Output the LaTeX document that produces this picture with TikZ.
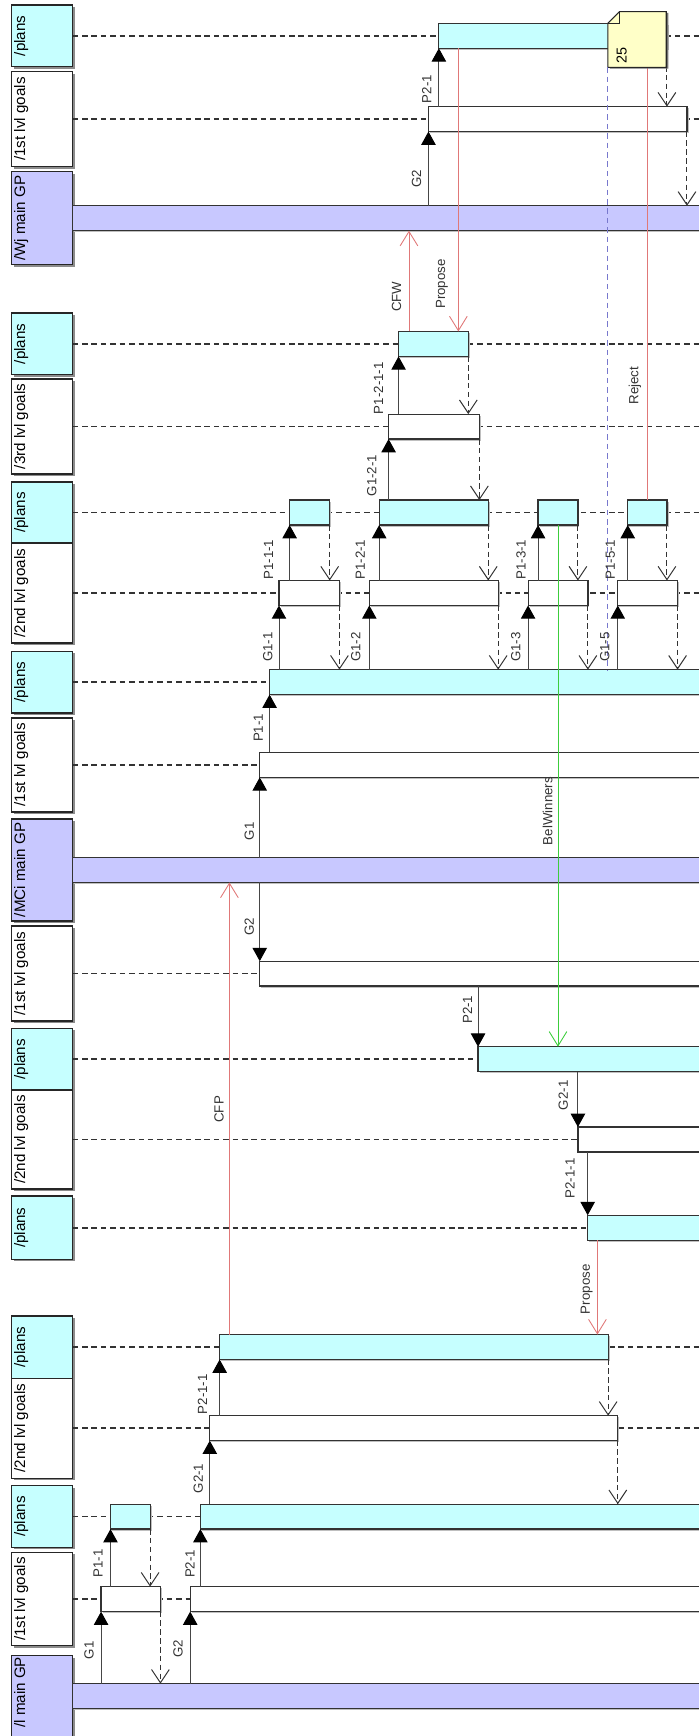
\documentclass[tikz,border=0pt]{standalone}
\usepackage{fontspec}
\setmainfont{Liberation Sans}
\usetikzlibrary{arrows.meta}
\definecolor{cyanfill}{RGB}{198,255,255}
\definecolor{lavfill}{RGB}{200,200,255}
\definecolor{notefill}{RGB}{255,255,200}
\definecolor{msgred}{RGB}{224,120,120}
\definecolor{msggreen}{RGB}{60,205,60}
\definecolor{noteblue}{RGB}{120,120,205}
\definecolor{linegray}{RGB}{70,70,70}
\begin{document}
\begin{tikzpicture}[x=1pt,y=-1pt,
  shd/.style={preaction={fill=black!45, transform canvas={xshift=1.8pt,yshift=-1.8pt}}},
  hdr/.style={draw=black!85, line width=1.2pt, rotate=90, inner sep=0pt, outer sep=0pt,
    text height=12.3pt, text depth=42.8pt, font=\fontsize{13.7}{14}\selectfont, shd},
  hplan/.style={hdr, fill=cyanfill, minimum width=55.7pt},
  hgoal/.style={hdr, fill=white},
  hmain/.style={hdr, fill=lavfill},
  act/.style={draw=black!80, line width=1.1pt, inner sep=0pt, outer sep=0pt,
    minimum height=22.5pt, anchor=west,
    preaction={fill=black!25, transform canvas={xshift=1.4pt,yshift=-1.4pt}}},
  acy/.style={act, fill=cyanfill},
  awh/.style={act, fill=white},
  alav/.style={act, fill=lavfill},
  life/.style={draw=black!80, line width=1.5pt, dash pattern=on 5pt off 3.5pt},
  sync/.style={draw=linegray, line width=0.9pt, -{Triangle[length=12pt,width=13pt,color=black]}},
  ret/.style={draw=black!80, line width=0.9pt, dash pattern=on 5pt off 3pt, -{Straight Barb[length=12pt,width=16pt]}},
  asy/.style={draw=msgred, line width=0.8pt, -{Straight Barb[length=13pt,width=16pt]}},
  asyg/.style={asy, draw=msggreen},
  notel/.style={draw=noteblue, line width=0.9pt, dash pattern=on 5pt off 3.5pt},
  lbl/.style={rotate=90, anchor=base, inner sep=0pt, text=black!80, font=\fontsize{12}{12}\selectfont}
]
\useasboundingbox (0,0) rectangle (631,1568);

% ---------- header boxes ----------
\node[hplan] (h1) at (38.05,32.35) {/plans};
\node[hgoal, minimum width=85.7pt] (h2) at (38.05,107.55) {/1st lvl goals};
\node[hmain, minimum width=84.2pt] (h3) at (38.05,197.1) {/Wj main GP};
\node[hplan] (h4) at (38.05,310.65) {/plans};
\node[hgoal, minimum width=85.8pt] (h5) at (38.05,385.3) {/3rd lvl goals};
\node[hplan, minimum width=55.1pt] (h6) at (38.05,462.95) {/plans};
\node[hgoal, minimum width=90.2pt] (h7) at (38.05,535.6) {/2nd lvl goals};
\node[hplan] (h8) at (38.05,616.1) {/plans};
\node[hgoal, minimum width=84.9pt] (h9) at (38.05,690.85) {/1st lvl goals};
\node[hmain, minimum width=92.4pt] (h10) at (38.05,785.8) {/MCi main GP};
\node[hgoal, minimum width=85.8pt] (h11) at (38.05,879.4) {/1st lvl goals};
\node[hplan] (h12) at (38.05,956.7) {/plans};
\node[hgoal, minimum width=89.4pt] (h13) at (38.05,1029.2) {/2nd lvl goals};
\node[hplan, minimum width=57.1pt] (h14) at (38.05,1108.85) {/plans};
\node[hplan, minimum width=56.3pt] (h15) at (38.05,1216.65) {/plans};
\node[hgoal, minimum width=90.3pt] (h16) at (38.05,1289.95) {/2nd lvl goals};
\node[hplan] (h17) at (38.05,1369.85) {/plans};
\node[hgoal, minimum width=84.3pt] (h18) at (38.05,1444.35) {/1st lvl goals};
\node[hmain, minimum width=84.5pt] (h19) at (38.05,1537.75) {\hspace*{18.5pt}/l main GP};

% ---------- lifelines ----------
\coordinate (rx) at (640,0);
\foreach \h in {h1,h2,h4,h5,h6,h7,h8,h9,h11,h12,h13,h14,h15,h16,h17,h18}
  \draw[life] (\h.south) -- (\h.south -| rx);

% ---------- main GP bars ----------
\node[alav, minimum width=580pt] (wjbar) at (h3.south) {};
\node[alav, minimum width=580pt] (mcibar) at (h10.south) {};
\node[alav, minimum width=580pt] (lbar) at (65.6,1532) {};

% ---------- activations ----------
\node[acy, minimum width=206pt] (p1) at (396.4,32.35) {};
\node[awh, minimum width=233.5pt] (g2) at (387,107.55) {};
\node[acy, minimum width=63pt] (p4) at (360,310.65) {};
\node[awh, minimum width=82pt] (g5) at (351,385.3) {};
\node[acy, minimum width=36.2pt] (p6a) at (261.6,462.95) {};
\node[acy, minimum width=98.5pt] (p6b) at (342.5,462.95) {};
\node[acy, minimum width=36pt] (p6c) at (486,462.95) {};
\node[acy, minimum width=35.4pt] (p6d) at (567,462.95) {};
\node[awh, minimum width=54.6pt] (g7a) at (252,535.6) {};
\node[awh, minimum width=116.4pt] (g7b) at (333.6,535.6) {};
\node[awh, minimum width=54pt] (g7c) at (477,535.6) {};
\node[awh, minimum width=54pt] (g7d) at (558,535.6) {};
\node[acy, minimum width=400pt] (p8) at (243.5,616.1) {};
\node[awh, minimum width=410pt] (g9) at (234.6,690.85) {};
\node[awh, minimum width=410pt] (g11) at (234.6,879.4) {};
\node[acy, minimum width=210pt] (p12) at (431.8,956.7) {};
\node[awh, minimum width=120pt] (g13) at (522,1029.2) {};
\node[acy, minimum width=110pt] (p14) at (530.8,1108.85) {};
\node[acy, minimum width=350.9pt] (p15) at (198.4,1216.65) {};
\node[awh, minimum width=368.5pt] (g16) at (189.5,1289.95) {};
\node[acy, minimum width=35.8pt] (p17a) at (99.8,1369.85) {};
\node[acy, minimum width=460pt] (p17b) at (181,1369.85) {};
\node[awh, minimum width=53.6pt] (g18a) at (91.3,1444.35) {};
\node[awh, minimum width=470pt] (g18b) at (171.8,1444.35) {};

% ---------- synchronous calls and returns ----------
% top group
\draw[sync] (g2.south west |- wjbar.north) -- (g2.south west);
\draw[sync] (p1.south west |- g2.north) -- (p1.south west);
\draw[ret] (p1.south east) -- (p1.south east |- g2.north);
\draw[ret] (g2.south east) -- (g2.south east |- wjbar.north);
% 3rd level group
\draw[sync] (g5.south west |- p6b.north) -- (g5.south west);
\draw[sync] (p4.south west |- g5.north) -- (p4.south west);
\draw[ret] (p4.south east) -- (p4.south east |- g5.north);
\draw[ret] (g5.south east) -- (g5.south east |- p6b.north);
% 2nd level group
\foreach \a/\b in {g7a/p6a, g7b/p6b, g7c/p6c, g7d/p6d}{
  \draw[sync] (\a.south west |- p8.north) -- (\a.south west);
  \draw[ret] (\a.south east) -- (\a.south east |- p8.north);
  \draw[sync] (\b.south west |- \a.north) -- (\b.south west);
  \draw[ret] (\b.south east) -- (\b.south east |- \a.north);
}
% MCi group
\draw[sync] (p8.south west |- g9.north) -- (p8.south west);
\draw[sync] (g9.south west |- mcibar.north) -- (g9.south west);
\draw[sync] (g11.north west |- mcibar.south) -- (g11.north west);
\draw[sync] (p12.north west |- g11.south) -- (p12.north west);
\draw[sync] (g13.north west |- p12.south) -- (g13.north west);
\draw[sync] (p14.north west |- g13.south) -- (p14.north west);
% bottom group
\draw[sync] (g18a.south west |- lbar.north) -- (g18a.south west);
\draw[sync] (g18b.south west |- lbar.north) -- (g18b.south west);
\draw[ret] (g18a.south east) -- (g18a.south east |- lbar.north);
\draw[sync] (p17a.south west |- g18a.north) -- (p17a.south west);
\draw[sync] (p17b.south west |- g18b.north) -- (p17b.south west);
\draw[ret] (p17a.south east) -- (p17a.south east |- g18a.north);
\draw[sync] (g16.south west |- p17b.north) -- (g16.south west);
\draw[sync] (p15.south west |- g16.north) -- (p15.south west);
\draw[ret] (p15.south east) -- (p15.south east |- g16.north);
\draw[ret] (g16.south east) -- (g16.south east |- p17b.north);

% ---------- asynchronous messages ----------
\coordinate (cfw) at (369.4,0);
\coordinate (prt) at (414,0);
\coordinate (cfp) at (207.2,0);
\coordinate (prb) at (539.6,0);
\draw[asy] (cfw |- p4.north) -- (cfw |- wjbar.south);
\draw[asy] (prt |- p1.south) -- (prt |- p4.north);
\draw[asy] (p6d.north) -- (p6d.north |- p1.south);
\draw[asyg] (p6c.south) -- (p6c.south |- p12.north);
\draw[asy] (cfp |- p15.north) -- (cfp |- mcibar.south);
\draw[asy] (prb |- p14.south) -- (prb |- p15.north);

% ---------- note ----------
\node[inner sep=0pt, outer sep=0pt, minimum width=52.7pt, minimum height=50.3pt, anchor=north west] (note) at (549.1,10.5) {};
\filldraw[fill=notefill, draw=black!85, line width=1pt,
  preaction={fill=black!55, transform canvas={xshift=1.8pt,yshift=-1.2pt}}]
  (note.south west) -- ++(0,-39.8) -- ++(10.5,-10.5) -- (note.north east) -- (note.south east) -- cycle;
\draw[black!85, line width=0.8pt] (note.north west) ++(0,10.5) -- ++(10.5,0) -- ++(0,-10.5);
\node[rotate=90, anchor=north west, inner sep=0pt, font=\fontsize{13}{13}\selectfont] (n25) at (556.7,57.2) {25};
\draw[notel] (note.south west) -- (note.south west |- p8.north);

% ---------- message labels ----------
\node[lbl] (t1) at (389.7,80.5) {P2-1};
\node[lbl] (t2) at (380.3,161.8) {G2};
\node[lbl] (t3) at (362.2,267.9) {CFW};
\node[lbl] (t4) at (402,256.5) {Propose};
\node[lbl] (t5) at (576.5,348.3) {Reject};
\node[lbl] (t6) at (346,350.6) {P1-2-1-1};
\node[lbl] (t7) at (340,429.5) {G1-2-1};
\node[lbl] (t8) at (246.7,505.5) {P1-1-1};
\node[lbl] (t9) at (329.5,505.5) {P1-2-1};
\node[lbl] (t10) at (474.8,505.5) {P1-3-1};
\node[lbl] (t11) at (555.3,505.5) {P1-5-1};
\node[lbl] (t12) at (246.1,584.5) {G1-1};
\node[lbl] (t13) at (325.5,584.5) {G1-2};
\node[lbl] (t14) at (470,584.5) {G1-3};
\node[lbl] (t15) at (550.5,584.5) {G1-5};
\node[lbl] (t16) at (237.4,657.5) {P1-1};
\node[lbl] (t17) at (229.4,750.7) {G1};
\node[lbl] (t18) at (229.4,837.3) {G2};
\node[lbl] (t19) at (499,732.6) {BelWinners};
\node[lbl] (t20) at (426.5,912) {P2-1};
\node[lbl] (t21) at (513,989.3) {G2-1};
\node[lbl] (t22) at (519,1064.3) {P2-1-1};
\node[lbl] (t23) at (202,1002) {CFP};
\node[lbl] (t24) at (532.7,1164.5) {Propose};
\node[lbl] (t25) at (187.1,1259.2) {P2-1-1};
\node[lbl] (t26) at (183.2,1335.3) {G2-1};
\node[lbl] (t27) at (92.6,1412) {P1-1};
\node[lbl] (t28) at (175.9,1412.5) {P2-1};
\node[lbl] (t29) at (84.5,1490.7) {G1};
\node[lbl] (t30) at (165,1489.5) {G2};
\end{tikzpicture}
\end{document}
